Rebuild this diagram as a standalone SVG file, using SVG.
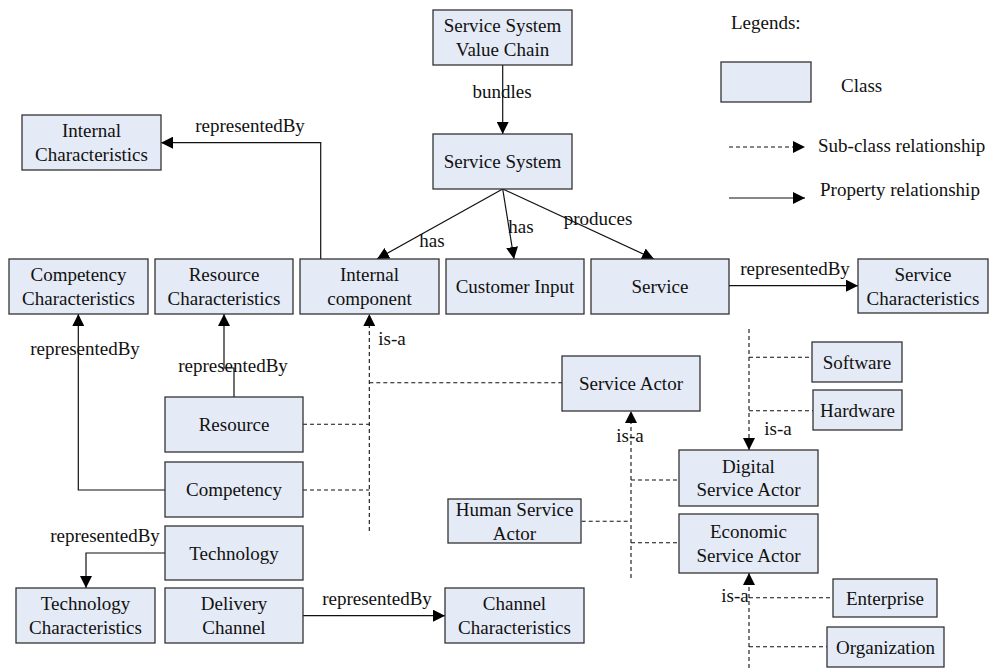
<svg xmlns="http://www.w3.org/2000/svg" width="993" height="668" viewBox="0 0 993 668">
<style>
text{font-family:"Liberation Serif","Times New Roman",serif;font-size:19px;fill:#111}
.c{text-anchor:middle}
rect.n{fill:#E5EBF6;stroke:#333;stroke-width:1.3}
.p{fill:none;stroke:#111;stroke-width:1.2}
.d{fill:none;stroke:#111;stroke-width:1.1;stroke-dasharray:4,3}
</style>
<defs>
<marker id="ah" markerUnits="userSpaceOnUse" markerWidth="12" markerHeight="12" refX="12" refY="6" orient="auto">
<path d="M0,0 L12,6 L0,12 z" fill="#000"/>
</marker>
</defs>
<rect width="993" height="668" fill="#fff"/>

<g id="legend">
<text x="731" y="29">Legends:</text>
<rect class="n" x="721" y="62" width="90" height="40"/>
<text x="841" y="92">Class</text>
<line class="d" x1="729" y1="147" x2="805" y2="147" marker-end="url(#ah)"/>
<text x="818" y="152">Sub-class relationship</text>
<line class="p" x1="729" y1="198" x2="805" y2="198" marker-end="url(#ah)"/>
<text x="820" y="196">Property relationship</text>
</g>

<g id="connectors">
<line class="p" x1="502.7" y1="65" x2="502.7" y2="134" marker-end="url(#ah)"/>
<line class="p" x1="502.7" y1="189" x2="377" y2="259" marker-end="url(#ah)"/>
<line class="p" x1="502.7" y1="189" x2="514" y2="259" marker-end="url(#ah)"/>
<line class="p" x1="502.7" y1="189" x2="654" y2="259" marker-end="url(#ah)"/>
<path class="p" d="M320.7,259 V142.7 H161" marker-end="url(#ah)"/>
<line class="p" x1="729" y1="285.7" x2="858" y2="285.7" marker-end="url(#ah)"/>
<path class="p" d="M234,397 V368 H224 V314" marker-end="url(#ah)"/>
<path class="p" d="M165,490 H78.3 V314" marker-end="url(#ah)"/>
<path class="p" d="M165,553 H86 V588" marker-end="url(#ah)"/>
<line class="p" x1="303" y1="615.7" x2="445" y2="615.7" marker-end="url(#ah)"/>

<path class="d" d="M369.3,531 V314" marker-end="url(#ah)"/>
<line class="d" x1="303" y1="424.3" x2="369.3" y2="424.3"/>
<line class="d" x1="303" y1="490" x2="369.3" y2="490"/>
<line class="d" x1="369.3" y1="382.7" x2="562" y2="382.7"/>

<path class="d" d="M631,578 V411" marker-end="url(#ah)"/>
<line class="d" x1="631" y1="480" x2="679" y2="480"/>
<line class="d" x1="581.7" y1="521.3" x2="631" y2="521.3"/>
<line class="d" x1="631" y1="542.7" x2="679" y2="542.7"/>

<path class="d" d="M749,329 V450" marker-end="url(#ah)"/>
<line class="d" x1="749" y1="357.3" x2="812" y2="357.3"/>
<line class="d" x1="749" y1="410.7" x2="813" y2="410.7"/>

<path class="d" d="M749,668 V573" marker-end="url(#ah)"/>
<line class="d" x1="749" y1="597.7" x2="833" y2="597.7"/>
<line class="d" x1="749" y1="646.7" x2="827" y2="646.7"/>

<text class="c" x="502" y="98">bundles</text>
<text class="c" x="250" y="132">representedBy</text>
<text class="c" x="432" y="247">has</text>
<text class="c" x="521" y="233">has</text>
<text class="c" x="598" y="225">produces</text>
<text class="c" x="795" y="275">representedBy</text>
<text class="c" x="85" y="355">representedBy</text>
<text class="c" x="233" y="372">representedBy</text>
<text class="c" x="105" y="542">representedBy</text>
<text class="c" x="377" y="605">representedBy</text>
<text class="c" x="392" y="345">is-a</text>
<text class="c" x="630" y="442">is-a</text>
<text class="c" x="778" y="435">is-a</text>
<text class="c" x="735" y="602">is-a</text>
</g>

<g id="n-ssvc"><rect class="n" x="433" y="10" width="139" height="55"/><text class="c" x="502.5" y="32.3">Service System</text><text class="c" x="502.5" y="55.7">Value Chain</text></g>
<g id="n-ss"><rect class="n" x="433" y="134" width="139" height="55"/><text class="c" x="502.5" y="167.7">Service System</text></g>
<g id="n-intchar"><rect class="n" x="22" y="115" width="139" height="55"/><text class="c" x="91.5" y="137">Internal</text><text class="c" x="91.5" y="160.5">Characteristics</text></g>
<g id="n-compchar"><rect class="n" x="9" y="259" width="139" height="55"/><text class="c" x="78.5" y="281">Competency</text><text class="c" x="78.5" y="304.5">Characteristics</text></g>
<g id="n-reschar"><rect class="n" x="155" y="259" width="138" height="55"/><text class="c" x="224" y="281">Resource</text><text class="c" x="224" y="304.5">Characteristics</text></g>
<g id="n-intcomp"><rect class="n" x="300" y="259" width="139" height="55"/><text class="c" x="369.5" y="281">Internal</text><text class="c" x="369.5" y="304.5">component</text></g>
<g id="n-custin"><rect class="n" x="446" y="259" width="138" height="55"/><text class="c" x="515" y="293">Customer Input</text></g>
<g id="n-service"><rect class="n" x="591" y="259" width="138" height="55"/><text class="c" x="660" y="293">Service</text></g>
<g id="n-servchar"><rect class="n" x="858" y="259" width="130" height="54"/><text class="c" x="923" y="281">Service</text><text class="c" x="923" y="304.5">Characteristics</text></g>
<g id="n-sactor"><rect class="n" x="562" y="356" width="138" height="55"/><text class="c" x="631" y="390">Service Actor</text></g>
<g id="n-software"><rect class="n" x="812" y="342" width="90" height="40"/><text class="c" x="857" y="368.5">Software</text></g>
<g id="n-hardware"><rect class="n" x="813" y="390" width="89" height="40"/><text class="c" x="857.5" y="416.5">Hardware</text></g>
<g id="n-resource"><rect class="n" x="165" y="397" width="138" height="55"/><text class="c" x="234" y="431">Resource</text></g>
<g id="n-competency"><rect class="n" x="165" y="462" width="138" height="55"/><text class="c" x="234" y="496">Competency</text></g>
<g id="n-digital"><rect class="n" x="679" y="450" width="139" height="56"/><text class="c" x="748.5" y="472.5">Digital</text><text class="c" x="748.5" y="496">Service Actor</text></g>
<g id="n-human"><rect class="n" x="448" y="499" width="133" height="44"/><text class="c" x="514.5" y="516">Human Service</text><text class="c" x="514.5" y="539.5">Actor</text></g>
<g id="n-economic"><rect class="n" x="679" y="514" width="139" height="59"/><text class="c" x="748.5" y="538">Economic</text><text class="c" x="748.5" y="562">Service Actor</text></g>
<g id="n-technology"><rect class="n" x="165" y="526" width="138" height="54"/><text class="c" x="234" y="559.5">Technology</text></g>
<g id="n-techchar"><rect class="n" x="16" y="588" width="139" height="55"/><text class="c" x="85.5" y="610">Technology</text><text class="c" x="85.5" y="633.5">Characteristics</text></g>
<g id="n-delivery"><rect class="n" x="165" y="588" width="138" height="55"/><text class="c" x="234" y="610">Delivery</text><text class="c" x="234" y="633.5">Channel</text></g>
<g id="n-chanchar"><rect class="n" x="445" y="588" width="139" height="55"/><text class="c" x="514.5" y="610">Channel</text><text class="c" x="514.5" y="633.5">Characteristics</text></g>
<g id="n-enterprise"><rect class="n" x="833" y="579" width="104" height="38"/><text class="c" x="885" y="604.5">Enterprise</text></g>
<g id="n-organization"><rect class="n" x="827" y="627" width="117" height="40"/><text class="c" x="885.5" y="653.5">Organization</text></g>
</svg>
